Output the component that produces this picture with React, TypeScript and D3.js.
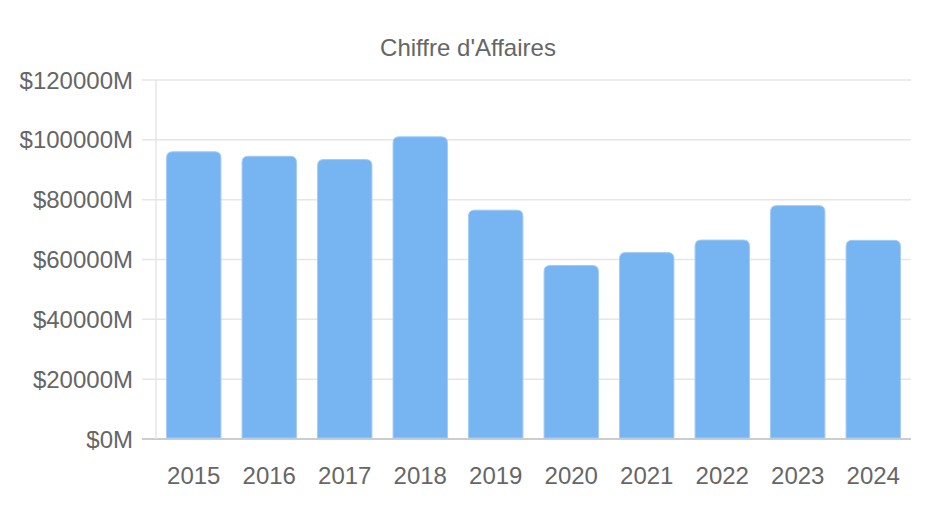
import React from 'react';
import * as d3 from 'd3';

const years = ['2015', '2016', '2017', '2018', '2019', '2020', '2021', '2022', '2023', '2024'];
const revenue = [96000, 94500, 93400, 101000, 76500, 58000, 62300, 66500, 78000, 66400];
const yTicks = [0, 20000, 40000, 60000, 80000, 100000, 120000];

const W = 928;
const H = 508;
const margin = { top: 80, right: 17, bottom: 69, left: 156 };
const font = '"Liberation Sans", Arial, Helvetica, sans-serif';

function topRounded(x: number, y: number, w: number, h: number, r: number) {
  return `M${x},${y + h} V${y + r} Q${x},${y} ${x + r},${y} H${x + w - r} Q${x + w},${y} ${x + w},${y + r} V${y + h} Z`;
}

export default function App() {
  const x = d3.scaleBand()
    .domain(years)
    .range([margin.left, W - margin.right])
    .paddingInner(0.28)
    .paddingOuter(0.14);

  const y = d3.scaleLinear()
    .domain([0, 120000])
    .range([H - margin.bottom, margin.top]);

  const left = margin.left;
  const right = W - margin.right;

  return (
    <svg width={W} height={H} style={{ position: 'absolute', left: 0, top: 0 }} fontFamily={font}>
      <text x={468} y={56} textAnchor="middle" fontSize={24} fill="#666">Chiffre d'Affaires</text>

      {/* grid + y labels */}
      {yTicks.map(t => (
        <g key={t}>
          <line x1={left - 14} x2={right} y1={y(t)} y2={y(t)}
            stroke={t === 0 ? '#cccccc' : '#e6e6e6'} strokeWidth={t === 0 ? 2 : 1.5} />
          <text x={133} y={y(t)} dy="0.36em" textAnchor="end" fontSize={24} fill="#666">
            {`$${t}M`}
          </text>
        </g>
      ))}
      <line x1={left} x2={left} y1={y(120000)} y2={y(0)} stroke="#e6e6e6" strokeWidth={1.5} />

      {/* bars */}
      {years.map((yr, i) => {
        const bx = x(yr)!;
        const by = y(revenue[i]);
        const bh = y(0) - by - 1;
        return (
          <path key={yr} d={topRounded(bx, by, x.bandwidth(), bh, 6)}
            fill="#77b4f2" stroke="#a3cbf6" strokeWidth={1} />
        );
      })}

      {/* x labels */}
      {years.map(yr => (
        <text key={yr} x={x(yr)! + x.bandwidth() / 2} y={484} textAnchor="middle" fontSize={24} fill="#666">
          {yr}
        </text>
      ))}
    </svg>
  );
}
